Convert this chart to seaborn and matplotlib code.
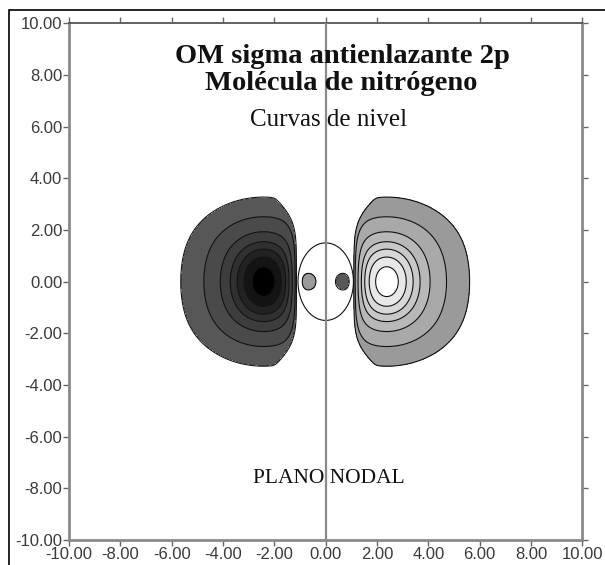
import numpy as np
import matplotlib
matplotlib.use("Agg")
import matplotlib.pyplot as plt
import seaborn as sns
from matplotlib.patches import Rectangle

# ---------------- data ----------------
tick_values = [-10, -8, -6, -4, -2, 0, 2, 4, 6, 8, 10]
tick_labels = [f"{v:.2f}" for v in tick_values]
lobe_peak_x = [-2.42, 2.38]        # centres of the two big lobes
lobe_inner_reach = 1.3             # peak to flat inner edge
lobe_corner_y = 3.24               # height where the flat inner edge rounds off
# distance from lobe centre to each contour ring (outer side), outermost first
ring_outer_distance = [3.23, 2.33, 1.69, 1.30, 1.03, 0.76, 0.45]
ring_stretch = [0.95, 0.35, 2.5]   # vertical stretch: base, extra near axis, width
lobe_decay = 1.5
oval_half_width = 1.08             # zero-contour oval around the bond centre
oval_half_height = 1.5
inner_half_width = 1.0             # small inner lobes next to the nuclei
inner_half_height = 0.55
inner_amplitude = 0.305
neg_colors = ["#575757", "#4a4a4a", "#3d3d3d", "#303030", "#222222", "#141414", "#000000"]
pos_colors = ["#9a9a9a", "#a9a9a9", "#b8b8b8", "#c8c8c8", "#d8d8d8", "#e8e8e8", "#ffffff"]
title_lines = ["OM sigma antienlazante 2p", "Molécula de nitrógeno"]
subtitle = "Curvas de nivel"
nodal_label = "PLANO NODAL"
nodal_plane_x = [0.0, 0.0]
nodal_plane_y = [-10.0, 10.0]

# ---------------- style ----------------
sns.set_theme(style="white")
plt.rcParams["font.family"] = ["Liberation Sans", "DejaVu Sans"]
serif = ["Liberation Serif", "DejaVu Serif"]

fig = plt.figure(figsize=(6.05, 5.65), dpi=100)
fig.patch.set_facecolor("white")
ax = fig.add_axes([69.2 / 605, 25 / 565, 513 / 605, 516.7 / 565])
ax.set_facecolor("white")

# ---------------- field ----------------
grid = np.linspace(-10, 10, 801)
X, Y = np.meshgrid(grid, grid)
s0, s1, sw = ring_stretch
S = s0 + s1 * np.exp(-(Y / sw) ** 2)
L = lobe_inner_reach * np.exp(-(np.abs(Y) / lobe_corner_y) ** 6)


def lobe(du, y):
    ratio = np.clip(-du / L, 0, 1 - 1e-9)
    D = np.where(du >= 0, du, L * np.arctanh(ratio))
    r = np.sqrt(D ** 2 + (y / S) ** 2)
    return np.where(du > -L, np.exp(-r / lobe_decay), 0.0)


psi = lobe(X - lobe_peak_x[1], Y) - lobe(lobe_peak_x[0] - X, Y)
H = 1 - (np.abs(X) / inner_half_width) ** 6 - (Y / inner_half_height) ** 2
psi = psi + inner_amplitude * (-X) * np.clip(H, 0, None)
E = (X / oval_half_width) ** 2 + (Y / oval_half_height) ** 2

level_values = [float(np.exp(-d / lobe_decay)) for d in ring_outer_distance]
fill_levels = [-1.5] + [-v for v in reversed(level_values)] + level_values + [1.5]
fill_colors = neg_colors[::-1] + ["#ffffff"] + pos_colors
ax.contourf(X, Y, psi, levels=fill_levels, colors=fill_colors, zorder=1)
line_levels = [-v for v in reversed(level_values)] + level_values
ax.contour(X, Y, psi, levels=line_levels, colors="#111111", linewidths=0.8,
           linestyles="solid", zorder=2)
ax.contour(X, Y, E, levels=[1.0], colors="#111111", linewidths=0.8,
           linestyles="solid", zorder=2)

sns.lineplot(x=nodal_plane_x, y=nodal_plane_y, ax=ax, color="#8a8a8a", linewidth=1.6,
             zorder=3, estimator=None, sort=False)

# ---------------- axes ----------------
ax.set_xlim(-10, 10)
ax.set_ylim(-10, 10)
ax.set_xticks(tick_values)
ax.set_xticklabels(tick_labels)
ax.set_yticks(tick_values)
ax.set_yticklabels(tick_labels)
ax.set_xlabel("")
ax.set_ylabel("")
ax.tick_params(axis="both", which="major", direction="out", length=4, width=1,
               color="#666666", top=True, right=True, bottom=True, left=True,
               labeltop=False, labelright=False, labelsize=12,
               labelcolor="#3a3a3a", pad=1)
for side in ["left", "bottom", "right"]:
    ax.spines[side].set_visible(True)
    ax.spines[side].set_color("#8a8a8a")
    ax.spines[side].set_linewidth(2.0)
ax.spines["top"].set_visible(True)
ax.spines["top"].set_color("#555555")
ax.spines["top"].set_linewidth(1.3)

# ---------------- texts ----------------
ax.text(0.67, 8.47, title_lines[0], ha="center", va="baseline", fontsize=20.5,
        fontweight="bold", family=serif, color="#111111", zorder=4)
ax.text(0.6, 7.43, title_lines[1], ha="center", va="baseline", fontsize=20.5,
        fontweight="bold", family=serif, color="#111111", zorder=4)
ax.text(0.11, 6.01, subtitle, ha="center", va="baseline", fontsize=18,
        family=serif, color="#111111", zorder=4)
ax.text(0.13, -7.81, nodal_label, ha="center", va="baseline", fontsize=15.5,
        family=serif, color="#111111", zorder=4)

# outer black frame
fig.add_artist(Rectangle((9 / 605, -0.05), 1.2, 555 / 565 + 0.05,
                         transform=fig.transFigure, fill=False,
                         edgecolor="black", linewidth=1.2, clip_on=False))

fig.savefig("out.png", dpi=100, facecolor="white")
